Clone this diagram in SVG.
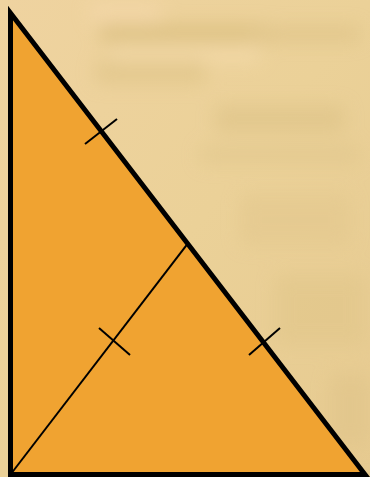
<svg xmlns="http://www.w3.org/2000/svg" width="370" height="477" viewBox="0 0 370 477">
  <style>
    .edge { fill: #F0A331; stroke: #000; stroke-width: 5; stroke-linejoin: miter; stroke-miterlimit: 10; }
    .thin { stroke: #000; stroke-width: 2; fill: none; }
  </style>
  <defs>
    <filter id="blur" x="-30%" y="-30%" width="160%" height="160%">
      <feGaussianBlur stdDeviation="9"/>
    </filter>
    <linearGradient id="bg" x1="0" y1="0" x2="1" y2="1">
      <stop offset="0" stop-color="#EFD3A0"/>
      <stop offset="0.5" stop-color="#EBD198"/>
      <stop offset="1" stop-color="#E6CA90"/>
    </linearGradient>
  </defs>
  <g id="background">
    <rect x="0" y="0" width="370" height="477" fill="url(#bg)"/>
    <g filter="url(#blur)" opacity="0.6">
      <rect x="100" y="24" width="170" height="20" fill="#D6BA78"/>
      <rect x="250" y="26" width="110" height="16" fill="#DCC084"/>
      <rect x="110" y="46" width="150" height="16" fill="#F7DDAE"/>
      <rect x="90" y="4" width="70" height="18" fill="#F7D9AE"/>
      <rect x="95" y="60" width="110" height="24" fill="#DEC386"/>
      <rect x="215" y="105" width="130" height="28" fill="#DDC287"/>
      <rect x="200" y="146" width="160" height="18" fill="#E0C68C"/>
      <rect x="240" y="195" width="110" height="50" fill="#E3C88E"/>
      <rect x="275" y="275" width="90" height="70" fill="#E1C68A"/>
      <rect x="330" y="375" width="40" height="70" fill="#E0C48A"/>
    </g>
  </g>
  <g id="triangle">
    <polygon class="edge" points="10.5,13 10.5,474.5 365,474.5"/>
  </g>
  <g id="connectors">
    <line id="median" class="thin" x1="10.5" y1="474.5" x2="187.7" y2="243.7"/>
    <line id="tick-hyp-1" class="thin" x1="85" y1="144" x2="117" y2="119"/>
    <line id="tick-hyp-2" class="thin" x1="249" y1="355" x2="280" y2="328"/>
    <line id="tick-median" class="thin" x1="99" y1="328" x2="130" y2="355"/>
  </g>
</svg>
